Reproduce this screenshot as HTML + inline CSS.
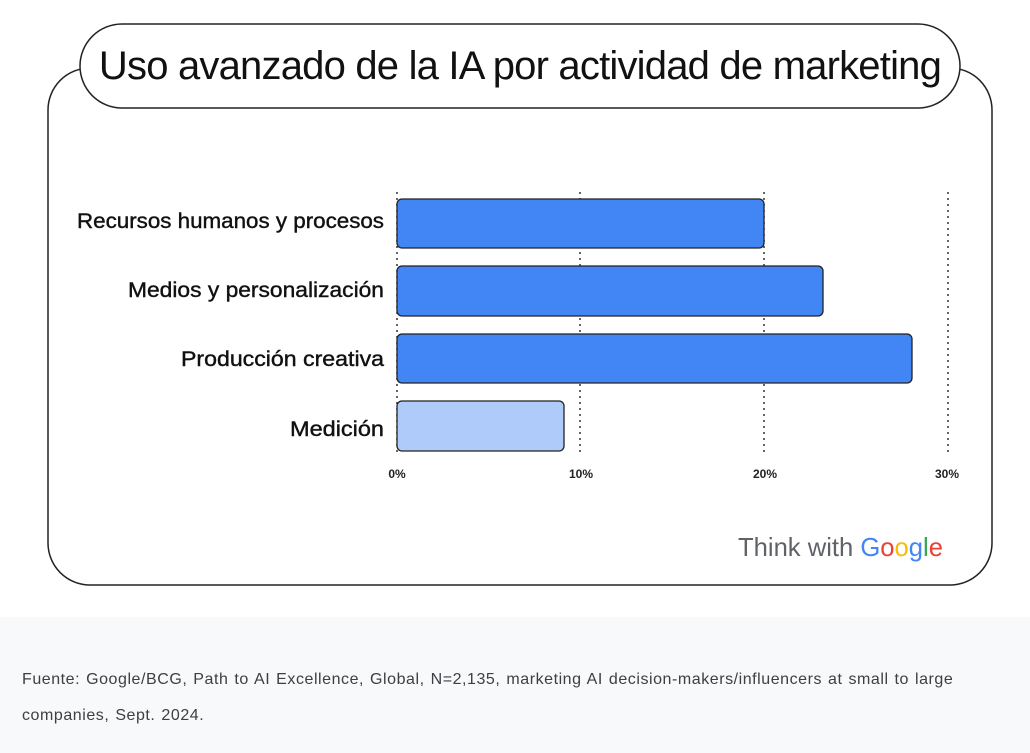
<!DOCTYPE html>
<html><head><meta charset="utf-8"><style>
body{margin:0;width:1030px;height:753px;background:#fff;position:relative;overflow:hidden;font-family:"Liberation Sans",sans-serif}
.foot{position:absolute;left:0;top:617px;width:1030px;height:136px;background:#f8f9fa}
.foot p{margin:0;position:absolute;left:22px;top:45px;font-size:16px;letter-spacing:0.55px;word-spacing:1px;line-height:36px;color:#3c4043;width:975px}
</style></head><body>
<svg width="1030" height="617" style="position:absolute;left:0;top:0" font-family="Liberation Sans, sans-serif">
<rect x="48" y="68" width="944" height="517" rx="42" fill="#fff" stroke="#222" stroke-width="1.5"/>
<rect x="80" y="24" width="880" height="84" rx="42" fill="#fff" stroke="#222" stroke-width="1.5"/>
<text x="520" y="79" text-anchor="middle" font-size="40" fill="#111" letter-spacing="-0.8">Uso avanzado de la IA por actividad de marketing</text>
<g stroke="#333" stroke-width="1.5" stroke-dasharray="2,4">
<line x1="397" y1="192" x2="397" y2="456"/><line x1="580" y1="192" x2="580" y2="456"/>
<line x1="764" y1="192" x2="764" y2="456"/><line x1="948" y1="192" x2="948" y2="456"/>
</g>
<g stroke="#222" stroke-width="1.3">
<rect x="397" y="199" width="367" height="49" rx="5" fill="#4285f4"/>
<rect x="397" y="266" width="426" height="50" rx="5" fill="#4285f4"/>
<rect x="397" y="334" width="515" height="49" rx="5" fill="#4285f4"/>
<rect x="397" y="401" width="167" height="50" rx="5" fill="#aecbfa"/>
</g>
<g font-size="21" fill="#111" stroke="#111" stroke-width="0.4">
<text x="77" y="228" textLength="307" lengthAdjust="spacingAndGlyphs">Recursos humanos y procesos</text>
<text x="128" y="297" textLength="256" lengthAdjust="spacingAndGlyphs">Medios y personalización</text>
<text x="181" y="366" textLength="203" lengthAdjust="spacingAndGlyphs">Producción creativa</text>
<text x="290" y="436" textLength="94" lengthAdjust="spacingAndGlyphs">Medición</text>
</g>
<g font-size="12" font-weight="bold" fill="#222" text-anchor="middle">
<text x="397" y="478">0%</text><text x="581" y="478">10%</text><text x="765" y="478">20%</text><text x="947" y="478">30%</text>
</g>
<text x="738" y="556" font-size="26" fill="#5f6368" textLength="205" lengthAdjust="spacingAndGlyphs">Think with <tspan fill="#4285f4">G</tspan><tspan fill="#ea4335">o</tspan><tspan fill="#fbbc05">o</tspan><tspan fill="#4285f4">g</tspan><tspan fill="#34a853">l</tspan><tspan fill="#ea4335">e</tspan></text>
</svg>
<div class="foot"><p>Fuente: Google/BCG, Path to AI Excellence, Global, N=2,135, marketing AI decision-makers/influencers at small to large companies, Sept. 2024.</p></div>
</body></html>
